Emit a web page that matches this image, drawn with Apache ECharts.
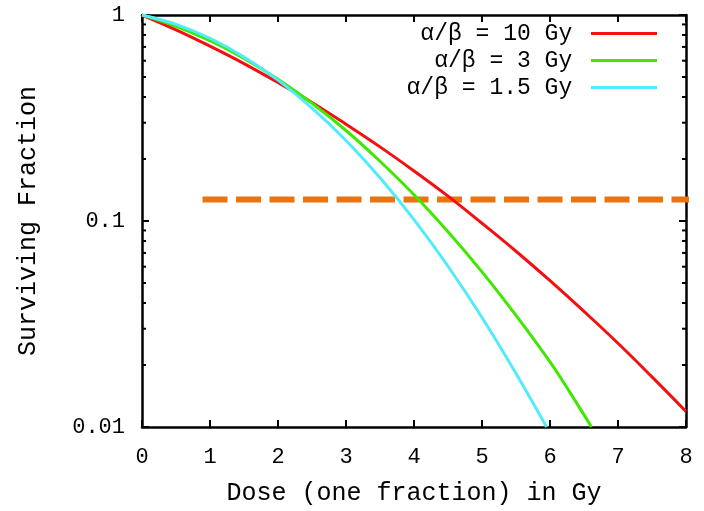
<!DOCTYPE html>
<html>
<head>
<meta charset="utf-8">
<script src="https://cdn.jsdelivr.net/npm/echarts@6/dist/echarts.min.js"></script>
<style>
  html, body { margin: 0; padding: 0; background: #fff; }
  #chart { width: 704px; height: 511px; }
</style>
</head>
<body>
<div id="chart"></div>
<script>
  // surviving fraction, [dose Gy, fraction]
  const ab10 = [[0, 1], [0.5, 0.847], [1, 0.706], [1.5, 0.581], [2, 0.470], [2.5, 0.376], [3, 0.295],
    [3.5, 0.229], [4, 0.175], [4.5, 0.132], [5, 0.0975], [5.5, 0.0713], [6, 0.0513], [6.5, 0.0364],
    [7, 0.0255], [7.5, 0.0175], [8, 0.0119]]
  const ab3 = [[0, 1], [0.5, 0.882], [1, 0.750], [1.5, 0.616], [2, 0.488], [2.5, 0.373], [3, 0.275],
    [3.5, 0.195], [4, 0.134], [4.5, 0.0886], [5, 0.0566], [5.5, 0.0348], [6, 0.0207], [6.3, 0.0146],
    [6.61, 0.01]]
  const ab15 = [[0, 1], [0.5, 0.901], [1, 0.771], [1.5, 0.626], [2, 0.483], [2.5, 0.353], [3, 0.246],
    [3.5, 0.162], [4, 0.1015], [4.5, 0.0603], [5, 0.034], [5.5, 0.0182], [5.95, 0.01]]
  // horizontal dashed level
  const levelLine = [[0.89, 0.127], [8.13, 0.127]]

  const seriesNames = ['α/β = 10 Gy', 'α/β = 3 Gy', 'α/β = 1.5 Gy']
  const xTicks = [0, 1, 2, 3, 4, 5, 6, 7, 8]
  const minorTicks = [0.02, 0.03, 0.04, 0.05, 0.06, 0.07, 0.08, 0.09,
    0.2, 0.3, 0.4, 0.5, 0.6, 0.7, 0.8, 0.9]

  const font = 'Liberation Mono'
  const black = '#000'

  const axisLine = { show: true, onZero: false, lineStyle: { color: black, width: 2.5 } }
  const majorTick = { show: true, inside: true, length: 7, lineStyle: { color: black, width: 2 } }

  let chart = echarts.init(document.getElementById('chart'))

  chart.setOption({
    backgroundColor: '#fff',
    animation: false,
    grid: { left: 142, right: 18, top: 15, bottom: 76 },
    legend: {
      data: seriesNames,
      orient: 'vertical',
      align: 'right',
      right: 47,
      top: 21,
      padding: 0,
      itemGap: 2,
      itemWidth: 66,
      itemHeight: 3,
      icon: 'rect',
      formatter: function (name) { return name + ' ' },
      textStyle: { fontFamily: font, fontSize: 23, color: black, lineHeight: 25 }
    },
    xAxis: [{
      type: 'value',
      min: xTicks[0],
      max: xTicks[xTicks.length - 1],
      interval: 1,
      axisLine: axisLine,
      axisTick: majorTick,
      splitLine: { show: false },
      axisLabel: { fontFamily: font, fontSize: 22, color: black, margin: 19 },
      name: 'Dose (one fraction) in Gy',
      nameLocation: 'middle',
      nameGap: 54,
      nameTextStyle: { fontFamily: font, fontSize: 25, color: black }
    }, {
      type: 'value',
      position: 'top',
      min: xTicks[0],
      max: xTicks[xTicks.length - 1],
      interval: 1,
      axisLine: axisLine,
      axisTick: majorTick,
      splitLine: { show: false },
      axisLabel: { show: false }
    }],
    yAxis: [{
      type: 'log',
      logBase: 10,
      min: 0.01,
      max: 1,
      axisLine: axisLine,
      axisTick: majorTick,
      splitLine: { show: false },
      axisLabel: {
        fontFamily: font, fontSize: 22, color: black, margin: 17,
        formatter: function (v) { return String(v) }
      },
      name: 'Surviving Fraction',
      nameLocation: 'middle',
      nameRotate: 90,
      nameGap: 101,
      nameTextStyle: { fontFamily: font, fontSize: 25, color: black }
    }, {
      type: 'log',
      logBase: 10,
      min: 0.01,
      max: 1,
      position: 'right',
      axisLine: axisLine,
      axisTick: majorTick,
      splitLine: { show: false },
      axisLabel: { show: false }
    }],
    series: [
      {
        name: 'level',
        type: 'line',
        data: levelLine,
        showSymbol: false,
        clip: false,
        z: 1,
        lineStyle: { color: '#e8730f', width: 6, type: [25, 8.5] }
      },
      {
        name: seriesNames[0],
        type: 'line',
        data: ab10,
        smooth: 0.4,
        showSymbol: false,
        z: 2,
        color: '#f41010',
        lineStyle: { width: 3 }
      },
      {
        name: seriesNames[1],
        type: 'line',
        data: ab3,
        smooth: 0.4,
        showSymbol: false,
        z: 3,
        color: '#3fe800',
        lineStyle: { width: 3 }
      },
      {
        name: seriesNames[2],
        type: 'line',
        data: ab15,
        smooth: 0.4,
        showSymbol: false,
        z: 4,
        color: '#50ecfc',
        lineStyle: { width: 3 }
      },
      {
        // minor log ticks on left and right borders
        type: 'custom',
        data: minorTicks.map(v => [0, v]),
        encode: { x: 0, y: 1 },
        clip: false,
        z: 5,
        renderItem: function (params, api) {
          let v = api.value(1)
          let pl = api.coord([xTicks[0], v])
          let pr = api.coord([xTicks[xTicks.length - 1], v])
          return {
            type: 'group',
            children: [
              { type: 'line', shape: { x1: pl[0], y1: pl[1], x2: pl[0] + 4, y2: pl[1] },
                style: { stroke: black, lineWidth: 2 } },
              { type: 'line', shape: { x1: pr[0] - 4, y1: pr[1], x2: pr[0], y2: pr[1] },
                style: { stroke: black, lineWidth: 2 } }
            ]
          }
        }
      }
    ]
  })
</script>
</body>
</html>
